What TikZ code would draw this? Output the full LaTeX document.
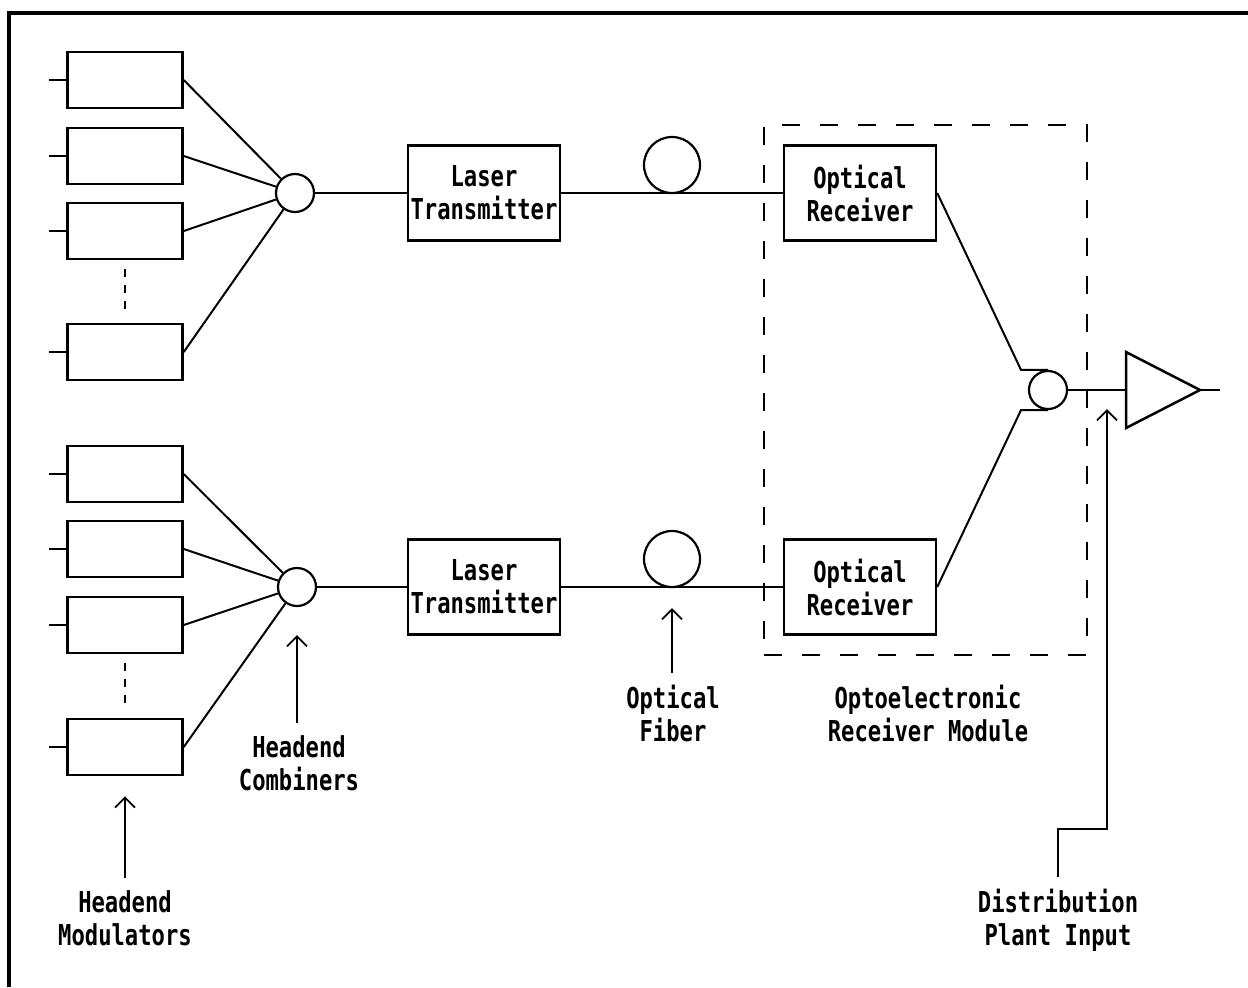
\documentclass[tikz,border=0pt]{standalone}
\usepackage{fontspec}
\newfontfamily\plotterfont{DejaVu Sans Mono}[FakeStretch=0.77]
\usepackage{tikz}
\usetikzlibrary{arrows.meta,fit}

\begin{document}
\begin{tikzpicture}[x=0.5pt,y=-0.5pt,>={Straight Barb[length=5pt,width=10pt]},
  font=\plotterfont\bfseries\fontsize{14.4}{16.5}\selectfont,
  modbox/.style={rectangle,draw=black,line width=1.25pt,inner sep=0pt,minimum width=57.5pt,minimum height=28pt},
  unitbox/.style={rectangle,draw=black,line width=1.25pt,inner sep=0pt,minimum width=76pt,minimum height=47.5pt,align=center},
  comb/.style={circle,draw=black,line width=1.1pt,inner sep=0pt,minimum size=19pt},
  fiberloop/.style={circle,draw=black,line width=1.1pt,inner sep=0pt,minimum size=28pt},
  wire/.style={draw=black,line width=1pt},
  callout/.style={align=center,inner sep=4pt,outer sep=2pt},
  pointer/.style={->,draw=black,line width=0.9pt}]
\useasboundingbox (0,0) rectangle (1248,987);
\draw[line width=1.6pt] (9,987) -- (9,13) -- (1248,13);
\node[modbox] (mod1) at (125,80) {};
\node[modbox] (mod2) at (125,156) {};
\node[modbox] (mod3) at (125,231) {};
\node[modbox] (mod4) at (125,352) {};
\node[modbox] (mod5) at (125,474) {};
\node[modbox] (mod6) at (125,549) {};
\node[modbox] (mod7) at (125,625) {};
\node[modbox] (mod8) at (125,747) {};
\coordinate (in1) at (49,80);
\coordinate (in2) at (49,156);
\coordinate (in3) at (49,231);
\coordinate (in4) at (49,352);
\coordinate (in5) at (49,474);
\coordinate (in6) at (49,549);
\coordinate (in7) at (49,625);
\coordinate (in8) at (49,747);
\node[comb] (comb1) at (295,193) {};
\node[comb] (comb2) at (297,587) {};
\node[comb] (comb3) at (1048,390) {};
\node[unitbox] (las1) at (484,193) {Laser\\Transmitter};
\node[unitbox] (las2) at (484,587) {Laser\\Transmitter};
\node[fiberloop] (fib1) at (672,165) {};
\node[fiberloop] (fib2) at (672,559) {};
\node[unitbox] (rx1) at (860,193) {Optical\\Receiver};
\node[unitbox] (rx2) at (860,587) {Optical\\Receiver};
\node[fit=(rx1)(rx2)(comb3),inner sep=9.5pt,draw=black,line width=1.2pt,dash pattern=on 9pt off 10pt] (orm) {};
\coordinate (ampin) at (1126,390);
\coordinate (ampout) at (1200,390);
\coordinate (out) at (1220,390);
\draw[line width=1.25pt] (1126,352) -- (ampout) -- (1126,428) -- cycle;
\node[callout] (lblmod) at (125,918) {Headend\\Modulators};
\node[callout] (lblcomb) at (299,763) {Headend\\Combiners};
\node[callout] (lblfib) at (673,713) {Optical\\Fiber};
\node[callout] (lblorm) at (928,713) {Optoelectronic\\Receiver Module};
\node[callout] (lbldist) at (1058,920) {Distribution\\Plant Input};
\coordinate (dpi) at (1107,409);
\draw[wire] (in1) -- (mod1);
\draw[wire] (in2) -- (mod2);
\draw[wire] (in3) -- (mod3);
\draw[wire] (in4) -- (mod4);
\draw[wire] (in5) -- (mod5);
\draw[wire] (in6) -- (mod6);
\draw[wire] (in7) -- (mod7);
\draw[wire] (in8) -- (mod8);
\draw[wire,dash pattern=on 4pt off 4pt,shorten <=4.5pt,shorten >=4.5pt] (mod3) -- (mod4);
\draw[wire,dash pattern=on 4pt off 4pt,shorten <=4.5pt,shorten >=4.5pt] (mod7) -- (mod8);
\draw[wire] (mod1.east) -- (comb1);
\draw[wire] (mod2.east) -- (comb1);
\draw[wire] (mod3.east) -- (comb1);
\draw[wire] (mod4.east) -- (comb1);
\draw[wire] (mod5.east) -- (comb2);
\draw[wire] (mod6.east) -- (comb2);
\draw[wire] (mod7.east) -- (comb2);
\draw[wire] (mod8.east) -- (comb2);
\draw[wire] (comb1) -- (las1);
\draw[wire] (comb2) -- (las2);
\draw[wire] (las1) -- (rx1);
\draw[wire] (las2) -- (rx2);
\draw[wire] (rx1.east) -- ([xshift=-13.5pt]comb3.north) -- (comb3.north);
\draw[wire] (rx2.east) -- ([xshift=-13.5pt]comb3.south) -- (comb3.south);
\draw[wire] (comb3) -- (ampin);
\draw[wire] (ampout) -- (out);
\draw[pointer,shorten >=10pt] (lblmod) -- (mod8);
\draw[pointer,shorten >=14pt] (lblcomb.north -| comb2) -- (comb2);
\draw[pointer,shorten >=10pt] (lblfib.north -| fib2) -- (fib2);
\draw[pointer] (lbldist.north) -- ++(0,-48) -| (dpi);
\end{tikzpicture}
\end{document}
